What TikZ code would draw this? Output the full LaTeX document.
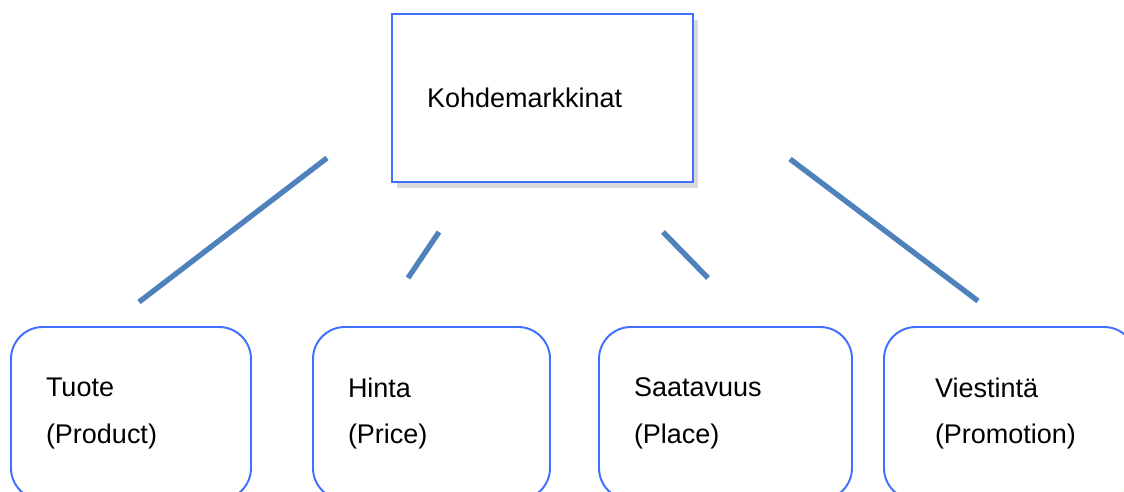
\documentclass[tikz,border=0pt]{standalone}
\usepackage{fontspec}
\setmainfont{Liberation Sans}
\usetikzlibrary{shadows}

\definecolor{rimblue}{RGB}{64,112,255}
\definecolor{stickblue}{RGB}{79,129,189}

\begin{document}
\begin{tikzpicture}[
    target/.style={draw=rimblue, line width=1.4pt, fill=white, align=left,
        inner xsep=0.875cm, text width=5.775cm, minimum height=4.2cm,
        drop shadow={shadow xshift=0.12cm, shadow yshift=-0.16cm, opacity=0.25, fill=black!60}},
    mixbox/.style={draw=rimblue, line width=1.4pt, rounded corners=0.8cm, align=left,
        inner xsep=0.875cm, minimum height=4.325cm},
    stick/.style={draw=stickblue, line width=3.8pt},
    font=\fontsize{19.2}{33}\selectfont
]

\useasboundingbox (0,0) rectangle (28.1,12.3);
\clip (0,0) rectangle (28.1,12.3);

% top box
\node[target] (markt) at (13.5625,9.85) {Kohdemarkkinat};

% the four P
\node[mixbox, text width=4.25cm] (tuote) at (3.275,1.9625) {Tuote\\(Product)};
\node[mixbox, text width=4.175cm] (hinta) at (10.7875,1.9625) {Hinta\\(Price)};
\node[mixbox, text width=4.575cm] (saat) at (18.1375,1.9625) {Saatavuus\\(Place)};
\node[mixbox, inner xsep=1.275cm, text width=3.75cm] (viest) at (25.25,1.9625) {Viestintä\\(Promotion)};

% loose ends of the sticks
\coordinate (t1) at (8.175,8.35);
\coordinate (b1) at (3.475,4.75);
\coordinate (t2) at (10.975,6.5);
\coordinate (b2) at (10.2,5.35);
\coordinate (t3) at (16.575,6.5);
\coordinate (b3) at (17.7,5.35);
\coordinate (t4) at (19.75,8.325);
\coordinate (b4) at (24.45,4.775);

\draw[stick] (t1) -- (b1);
\draw[stick] (t2) -- (b2);
\draw[stick] (t3) -- (b3);
\draw[stick] (t4) -- (b4);

\end{tikzpicture}
\end{document}
